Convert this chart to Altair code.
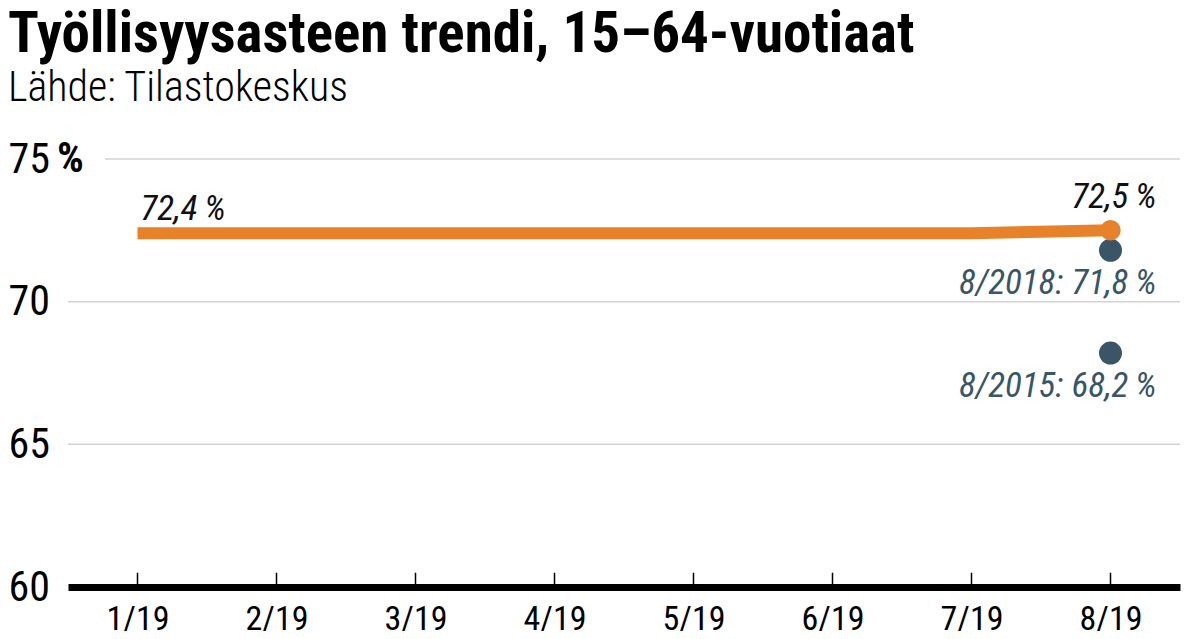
import altair as alt
import pandas as pd

# ---- data ----
months = ["1/19", "2/19", "3/19", "4/19", "5/19", "6/19", "7/19", "8/19"]
trend = [72.4, 72.4, 72.4, 72.4, 72.4, 72.4, 72.4, 72.5]
comp_labels = ["8/2018", "8/2015"]
comp_values = [71.8, 68.2]
y_ticks = [60, 65, 70, 75]
grid_full = [65, 70]
grid_short = [75]


def fi(v):
    return f"{v:.1f}".replace(".", ",") + "\u2009%"


FONT = "Roboto Condensed, Liberation Sans Narrow, DejaVu Sans Condensed, Roboto, sans-serif"
ORANGE = "#e8822a"
SLATE = "#3a5565"
W, H = 1112, 428

line_df = pd.DataFrame({"kk": months, "arvo": trend})
first_df = line_df.iloc[[0]].assign(teksti=fi(trend[0]))
last_df = line_df.iloc[[-1]].assign(teksti=fi(trend[-1]))
comp_df = pd.DataFrame({
    "kk": [months[-1]] * len(comp_values),
    "arvo": comp_values,
    "teksti": [f"{l}: {fi(v)}" for l, v in zip(comp_labels, comp_values)],
})
gfull_df = pd.DataFrame({"arvo": grid_full})
gshort_df = pd.DataFrame({"arvo": grid_short})
pct_df = pd.DataFrame({"arvo": [max(y_ticks)], "teksti": ["%"]})

x = alt.X(
    "kk:O", sort=months,
    scale=alt.Scale(type="point", padding=0.5, domain=months),
    axis=alt.Axis(title=None, labelAngle=0, ticks=False, domain=True,
                  domainColor="black", domainWidth=7, labelFontSize=34,
                  labelColor="black", labelPadding=15, labelFont=FONT,
                  grid=False),
)
y = alt.Y(
    "arvo:Q",
    scale=alt.Scale(domain=[60, 75], nice=False, zero=False),
    axis=alt.Axis(title=None, values=y_ticks, grid=False, domain=False,
                  ticks=False, labelAlign="left", labelPadding=60,
                  labelFontSize=42, labelFont=FONT, labelColor="black",
                  format="d"),
)

grid1 = alt.Chart(gfull_df).mark_rule(color="#d3d3d3", strokeWidth=1.5).encode(
    y=y, x=alt.value(0), x2=alt.value(W))
grid2 = alt.Chart(gshort_df).mark_rule(color="#d3d3d3", strokeWidth=1.5).encode(
    y=y, x=alt.value(37), x2=alt.value(W))

ticks = alt.Chart(line_df).mark_rule(color="black", strokeWidth=1.5).encode(
    x=x, y=alt.datum(60), y2=alt.datum(60.5))

comp_pts = alt.Chart(comp_df).mark_circle(size=530, color=SLATE, opacity=1).encode(x=x, y=y)
line = alt.Chart(line_df).mark_line(color=ORANGE, strokeWidth=12, strokeCap="butt").encode(x=x, y=y)
last_pt = alt.Chart(last_df).mark_circle(size=420, color=ORANGE, opacity=1).encode(x=x, y=y)

first_txt = alt.Chart(first_df).mark_text(
    align="left", baseline="alphabetic", dx=3, dy=-13, font=FONT,
    fontSize=35, fontStyle="italic", color="#111111").encode(x=x, y=y, text="teksti:N")
last_txt = alt.Chart(last_df).mark_text(
    align="right", baseline="alphabetic", dx=46, dy=-22, font=FONT,
    fontSize=35, fontStyle="italic", color="#111111").encode(x=x, y=y, text="teksti:N")
comp_txt = alt.Chart(comp_df).mark_text(
    align="right", baseline="alphabetic", dx=46, dy=44, font=FONT,
    fontSize=35, fontStyle="italic", color=SLATE).encode(x=x, y=y, text="teksti:N")
pct_txt = alt.Chart(pct_df).mark_text(
    align="left", baseline="middle", font=FONT, fontSize=42,
    fontWeight="bold", color="black").encode(x=alt.value(-11), y=y, text="teksti:N")

chart = alt.layer(
    grid1, grid2, ticks, comp_pts, line, last_pt,
    first_txt, last_txt, comp_txt, pct_txt,
).properties(
    width=W, height=H,
    padding={"left": 60, "top": 151, "right": 10, "bottom": 44},
    autosize=alt.AutoSizeParams(type="none"),
    title=alt.TitleParams(
        text="Työllisyysasteen trendi, 15–64-vuotiaat",
        subtitle="Lähde: Tilastokeskus",
        anchor="start", font=FONT, fontSize=57, fontWeight="bold",
        color="black", subtitleFont=FONT, subtitleFontSize=42,
        subtitleFontWeight=300, subtitleColor="black",
        offset=28, subtitlePadding=4,
    ),
).configure(background="white").configure_view(stroke=None)

chart.save("out.html", embed_options={"renderer": "svg", "actions": False})
